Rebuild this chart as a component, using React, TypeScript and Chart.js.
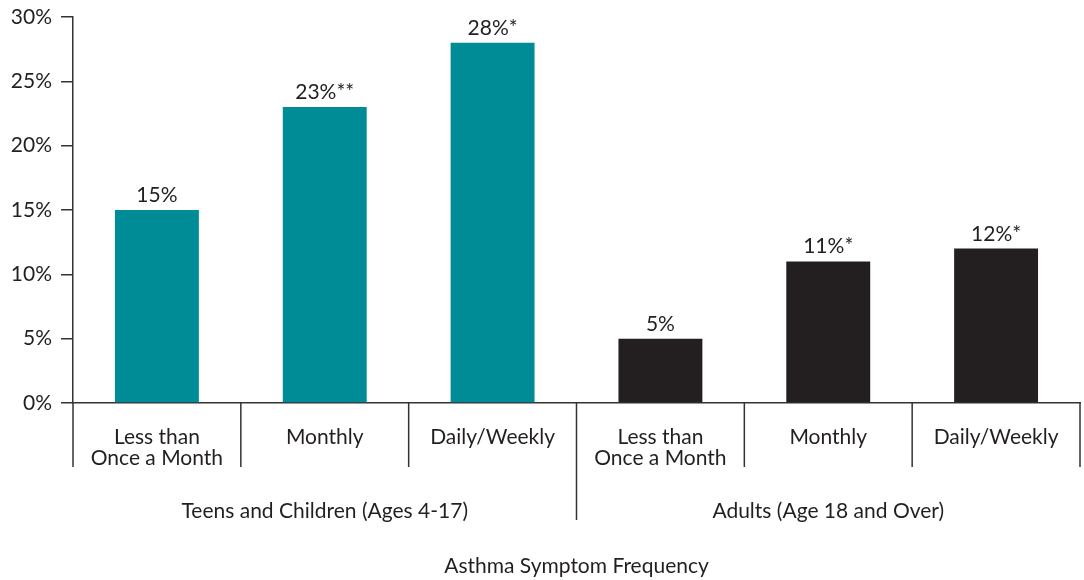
import React, { useEffect, useRef } from "react";
import { Chart, registerables } from "chart.js";

Chart.register(...registerables);

const categories: string[][] = [
  ["Less than", "Once a Month"],
  ["Monthly"],
  ["Daily/Weekly"],
  ["Less than", "Once a Month"],
  ["Monthly"],
  ["Daily/Weekly"],
];
const values: number[] = [15, 23, 28, 5, 11, 12];
const valueLabels: string[] = ["15%", "23%**", "28%*", "5%", "11%*", "12%*"];
const barColors: string[] = ["#008C96", "#008C96", "#008C96", "#231F20", "#231F20", "#231F20"];
const groups: string[] = ["Teens and Children (Ages 4-17)", "Adults (Age 18 and Over)"];
const groupSize = 3;
const axisTitle = "Asthma Symptom Frequency";

const FONT = "Lato, 'Noto Sans', sans-serif";
const FS = 21;
const TEXT = "#231F20";
const LINE = "#333333";

const decorPlugin = {
  id: "decor",
  afterDraw(chart: any) {
    const { ctx, chartArea, scales } = chart;
    const x = scales.x;
    const step = x.getPixelForValue(1) - x.getPixelForValue(0);
    const half = step / 2;
    ctx.save();
    ctx.strokeStyle = LINE;
    ctx.lineWidth = 1.5;
    const n = values.length;
    for (let i = 0; i <= n; i++) {
      const px = i < n ? x.getPixelForValue(i) - half : x.getPixelForValue(n - 1) + half;
      const isGroupSplit = i % groupSize === 0 && i !== 0 && i !== n;
      const len = isGroupSplit ? 117 : 64;
      ctx.beginPath();
      ctx.moveTo(px, chartArea.bottom);
      ctx.lineTo(px, chartArea.bottom + len);
      ctx.stroke();
    }
    // value labels
    ctx.fillStyle = TEXT;
    ctx.font = `${FS}px ${FONT}`;
    ctx.textAlign = "center";
    ctx.textBaseline = "alphabetic";
    const meta = chart.getDatasetMeta(0);
    meta.data.forEach((bar: any, i: number) => {
      ctx.fillText(valueLabels[i], bar.x, bar.y - 8);
    });
    // group labels
    ctx.textBaseline = "middle";
    groups.forEach((g, gi) => {
      const a = x.getPixelForValue(gi * groupSize) - half;
      const b = x.getPixelForValue(gi * groupSize + groupSize - 1) + half;
      ctx.fillText(g, (a + b) / 2, chartArea.bottom + 108);
    });
    ctx.restore();
  },
};

export default function App() {
  const ref = useRef<HTMLCanvasElement | null>(null);
  useEffect(() => {
    document.body.style.margin = "0";
    const chart = new Chart(ref.current!, {
      type: "bar",
      data: {
        labels: categories,
        datasets: [
          {
            data: values,
            backgroundColor: barColors,
            barPercentage: 0.5,
            categoryPercentage: 1,
          },
        ],
      },
      options: {
        animation: false,
        responsive: false,
        maintainAspectRatio: false,
        layout: { padding: { top: 17, right: 4, left: 0, bottom: 0 } },
        plugins: { legend: { display: false }, tooltip: { enabled: false } },
        scales: {
          x: {
            offset: true,
            grid: { display: false, drawTicks: false },
            border: { display: true, color: LINE, width: 1.5 },
            ticks: {
              color: TEXT,
              font: { family: FONT, size: FS, lineHeight: 1.0 },
              padding: 24,
              maxRotation: 0,
              autoSkip: false,
            },
            title: {
              display: true,
              text: axisTitle,
              color: TEXT,
              font: { family: FONT, size: FS, lineHeight: 1.2 },
              padding: { top: 0, bottom: 1 },
            },
            afterFit(scale: any) {
              scale.height = 177;
              scale.paddingLeft = 0;
              scale.paddingRight = 0;
            },
          },
          y: {
            min: 0,
            max: 30,
            grid: { drawOnChartArea: false, tickLength: 12, color: LINE, lineWidth: 1.5 },
            border: { display: true, color: LINE, width: 1.5 },
            ticks: {
              stepSize: 5,
              color: TEXT,
              padding: 9,
              font: { family: FONT, size: FS },
              callback: (v: any) => `${v}%`,
            },
            afterFit(scale: any) {
              scale.width = 73;
              scale.paddingTop = 0;
              scale.paddingBottom = 0;
            },
          },
        },
      },
      plugins: [decorPlugin],
    });
    return () => chart.destroy();
  }, []);
  return (
    <div style={{ position: "absolute", left: 0, top: 0, width: 1084, height: 580 }}>
      <canvas ref={ref} width={1084} height={580} style={{ width: 1084, height: 580 }} />
    </div>
  );
}
